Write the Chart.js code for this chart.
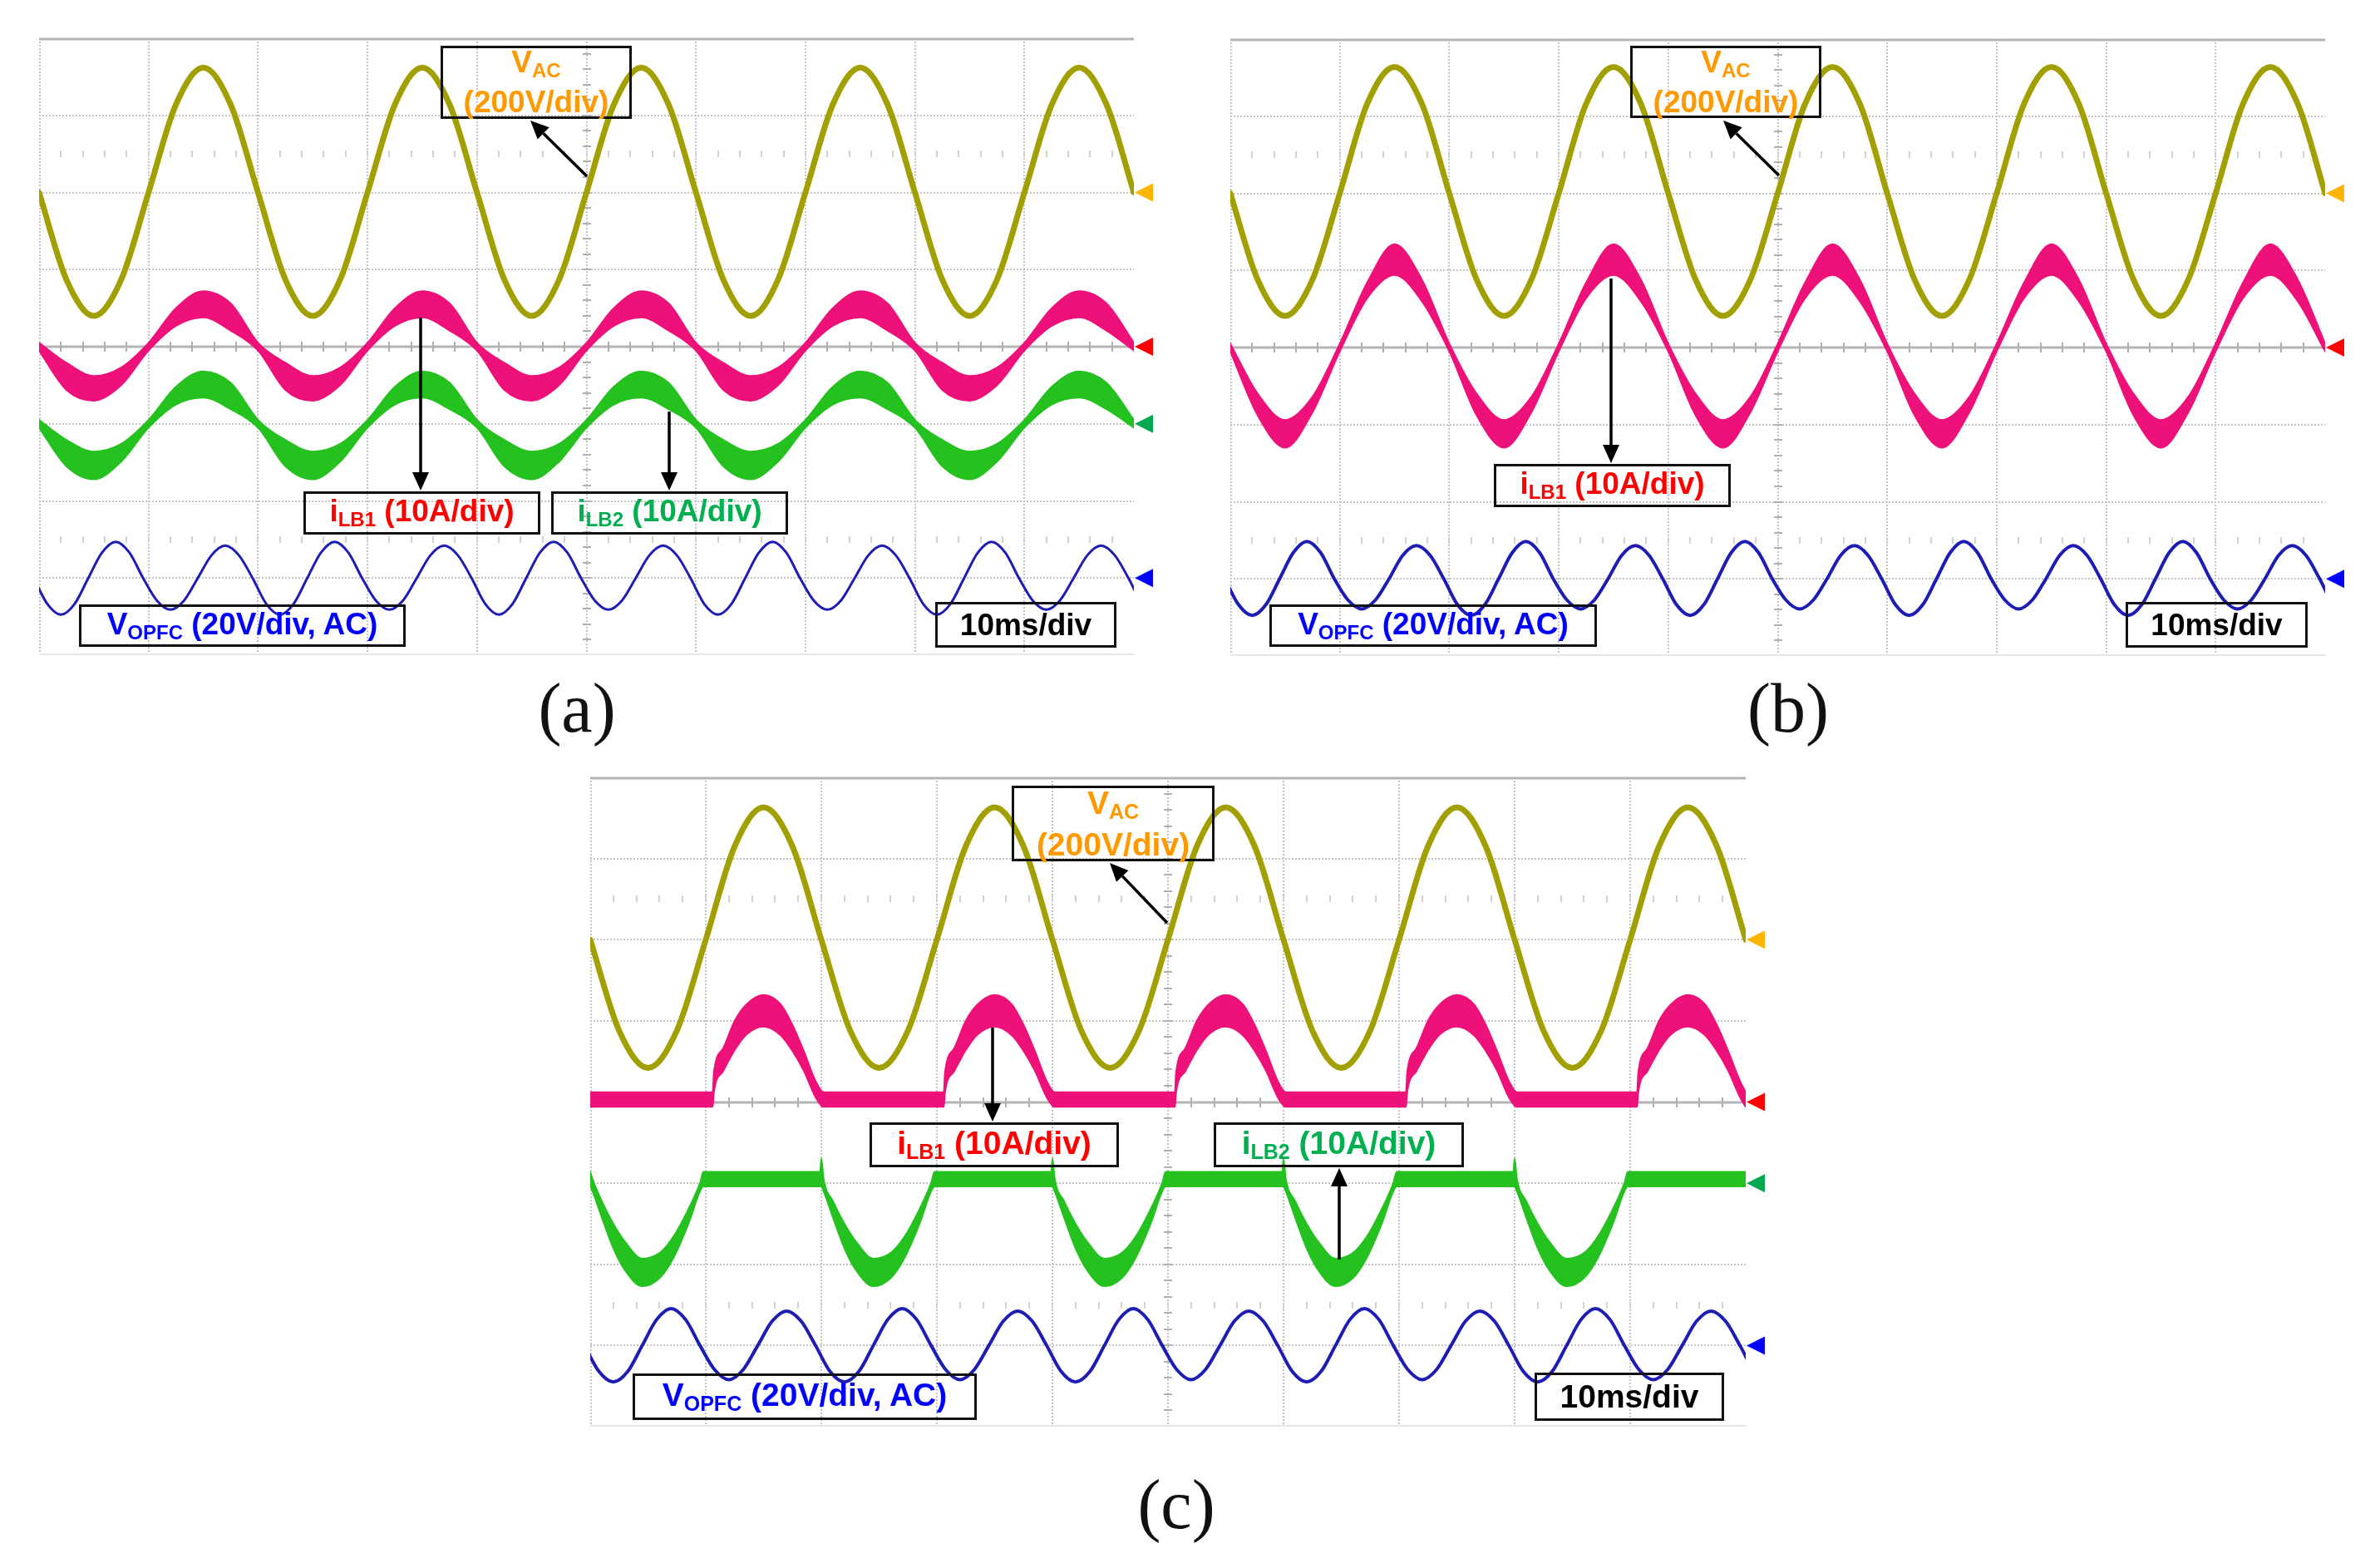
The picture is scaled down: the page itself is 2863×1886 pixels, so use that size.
<!DOCTYPE html>
<html>
<head>
<meta charset="utf-8">
<title>PFC waveforms</title>
<script src="https://cdn.jsdelivr.net/npm/chart.js@4.4.1/dist/chart.umd.min.js"></script>
<style>
  html, body { margin: 0; padding: 0; background: #fff; }
  body { width: 2863px; height: 1886px; position: relative; overflow: hidden; }
  .panel { position: absolute; }
  .box {
    position: absolute; box-sizing: border-box; border: 3px solid #111;
    display: flex; flex-direction: column; justify-content: center; align-items: center;
    font: bold 37px 'Liberation Sans', Arial, sans-serif; line-height: 44px; white-space: nowrap;
  }
  .box .s { font-size: 24px; position: relative; top: 6px; }
  .box.big { font-size: 39px; line-height: 46px; }
  .box.big .s { font-size: 25px; }
  .cap {
    position: absolute; transform: translateX(-50%);
    font: 84px 'Liberation Serif', 'DejaVu Serif', serif; line-height: 84px; color: #111;
  }
  #arrows { position: absolute; left: 0; top: 0; }
</style>
</head>
<body>
<div id="pa" class="panel"></div>
<div id="pb" class="panel"></div>
<div id="pc" class="panel"></div>

<!-- panel (a) labels -->
<div class="box" style="left:530px;top:55px;width:230px;height:88px;color:#ff9900"><div>V<span class="s">AC</span></div><div>(200V/div)</div></div>
<div class="box" style="left:365px;top:591px;width:285px;height:52px;color:#ff0000"><div>i<span class="s">LB1</span> (10A/div)</div></div>
<div class="box" style="left:663px;top:591px;width:285px;height:52px;color:#00b050"><div>i<span class="s">LB2</span> (10A/div)</div></div>
<div class="box" style="left:95px;top:727px;width:393px;height:51px;color:#0000ff"><div>V<span class="s">OPFC</span> (20V/div, AC)</div></div>
<div class="box" style="left:1125px;top:724px;width:218px;height:55px;color:#000"><div>10ms/div</div></div>

<!-- panel (b) labels -->
<div class="box" style="left:1961px;top:55px;width:230px;height:87px;color:#ff9900"><div>V<span class="s">AC</span></div><div>(200V/div)</div></div>
<div class="box" style="left:1797px;top:558px;width:285px;height:52px;color:#ff0000"><div>i<span class="s">LB1</span> (10A/div)</div></div>
<div class="box" style="left:1527px;top:727px;width:394px;height:51px;color:#0000ff"><div>V<span class="s">OPFC</span> (20V/div, AC)</div></div>
<div class="box" style="left:2557px;top:724px;width:219px;height:55px;color:#000"><div>10ms/div</div></div>

<!-- panel (c) labels -->
<div class="box big" style="left:1217px;top:945px;width:244px;height:91px;color:#ff9900"><div>V<span class="s">AC</span></div><div>(200V/div)</div></div>
<div class="box big" style="left:1046px;top:1350px;width:300px;height:54px;color:#ff0000"><div>i<span class="s">LB1</span> (10A/div)</div></div>
<div class="box big" style="left:1460px;top:1350px;width:301px;height:54px;color:#00b050"><div>i<span class="s">LB2</span> (10A/div)</div></div>
<div class="box big" style="left:761px;top:1652px;width:414px;height:56px;color:#0000ff"><div>V<span class="s">OPFC</span> (20V/div, AC)</div></div>
<div class="box big" style="left:1846px;top:1651px;width:228px;height:58px;color:#000"><div>10ms/div</div></div>

<div class="cap" style="left:694px;top:810px">(a)</div>
<div class="cap" style="left:2151px;top:810px">(b)</div>
<div class="cap" style="left:1415px;top:1768px">(c)</div>

<svg id="arrows" width="2863" height="1886"></svg>

<script>
/* global Chart */

// sample times in ms (10 ms/div, 10 divisions on screen)
const tCoarse = Array.from({ length: 41 }, (_, i) => i * 2.5)
// ripple samples, lined up with the 100 Hz troughs (2 ms + 10k) and peaks (7 ms + 10k)
const tRipple = Array.from({ length: 83 }, (_, i) => -0.5 + i * 1.25)

// ---- (a) interleaved operation ----
const vacA = [
  0, -226, -320, -226, 0, 228, 324, 228,
  0, -226, -320, -226, 0, 228, 324, 228,
  0, -226, -320, -226, 0, 228, 324, 228,
  0, -226, -320, -226, 0, 228, 324, 228,
  0, -226, -320, -226, 0, 228, 324, 228,
  0
]
const ilb1AUp = [
  0.5, -2.1, -3.8, -2.7, 0.5, 5.0, 7.2, 5.6,
  0.5, -2.1, -3.8, -2.7, 0.5, 5.0, 7.2, 5.6,
  0.5, -2.1, -3.8, -2.7, 0.5, 5.0, 7.2, 5.6,
  0.5, -2.1, -3.8, -2.7, 0.5, 5.0, 7.2, 5.6,
  0.5, -2.1, -3.8, -2.7, 0.5, 5.0, 7.2, 5.6,
  0.5
]
const ilb1ALo = [
  -0.5, -5.6, -7.0, -5.0, -0.5, 2.7, 3.8, 2.1,
  -0.5, -5.6, -7.0, -5.0, -0.5, 2.7, 3.8, 2.1,
  -0.5, -5.6, -7.0, -5.0, -0.5, 2.7, 3.8, 2.1,
  -0.5, -5.6, -7.0, -5.0, -0.5, 2.7, 3.8, 2.1,
  -0.5, -5.6, -7.0, -5.0, -0.5, 2.7, 3.8, 2.1,
  -0.5
]
const ilb2AUp = [
  0.5, -2.1, -3.6, -2.6, 0.5, 4.8, 6.8, 5.3,
  0.5, -2.1, -3.6, -2.6, 0.5, 4.8, 6.8, 5.3,
  0.5, -2.1, -3.6, -2.6, 0.5, 4.8, 6.8, 5.3,
  0.5, -2.1, -3.6, -2.6, 0.5, 4.8, 6.8, 5.3,
  0.5, -2.1, -3.6, -2.6, 0.5, 4.8, 6.8, 5.3,
  0.5
]
const ilb2ALo = [
  -0.5, -5.5, -7.2, -4.9, -0.5, 2.5, 3.4, 1.9,
  -0.5, -5.5, -7.2, -4.9, -0.5, 2.5, 3.4, 1.9,
  -0.5, -5.5, -7.2, -4.9, -0.5, 2.5, 3.4, 1.9,
  -0.5, -5.5, -7.2, -4.9, -0.5, 2.5, 3.4, 1.9,
  -0.5, -5.5, -7.2, -4.9, -0.5, 2.5, 3.4, 1.9,
  -0.5
]
const vopfcA = [
  0, -6.7, -9.5, -6.7, 0, 6.6, 9.4, 6.6,
  0, -5.8, -8.2, -5.8, 0, 5.9, 8.4, 5.9,
  0, -6.7, -9.5, -6.7, 0, 6.6, 9.4, 6.6,
  0, -5.8, -8.2, -5.8, 0, 5.9, 8.4, 5.9,
  0, -6.7, -9.5, -6.7, 0, 6.6, 9.4, 6.6,
  0, -5.8, -8.2, -5.8, 0, 5.9, 8.4, 5.9,
  0, -6.7, -9.5, -6.7, 0, 6.6, 9.4, 6.6,
  0, -5.8, -8.2, -5.8, 0, 5.9, 8.4, 5.9,
  0, -6.7, -9.5, -6.7, 0, 6.6, 9.4, 6.6,
  0, -5.8, -8.2, -5.8, 0, 5.9, 8.4, 5.9,
  0, -6.7, -9.5
]

// ---- (b) single phase ----
const vacB = [
  0, -224, -318, -224, 0, 232, 328, 232,
  0, -224, -318, -224, 0, 232, 328, 232,
  0, -224, -318, -224, 0, 232, 328, 232,
  0, -224, -318, -224, 0, 232, 328, 232,
  0, -224, -318, -224, 0, 232, 328, 232,
  0
]
const ilb1BUp = [
  0.5, -6.0, -9.4, -6.4, 0.5, 8.4, 13.4, 8.8,
  0.5, -6.0, -9.4, -6.4, 0.5, 8.4, 13.4, 8.8,
  0.5, -6.0, -9.4, -6.4, 0.5, 8.4, 13.4, 8.8,
  0.5, -6.0, -9.4, -6.4, 0.5, 8.4, 13.4, 8.8,
  0.5, -6.0, -9.4, -6.4, 0.5, 8.4, 13.4, 8.8,
  0.5
]
const ilb1BLo = [
  -0.5, -8.8, -13.0, -8.4, -0.5, 6.4, 9.4, 6.0,
  -0.5, -8.8, -13.0, -8.4, -0.5, 6.4, 9.4, 6.0,
  -0.5, -8.8, -13.0, -8.4, -0.5, 6.4, 9.4, 6.0,
  -0.5, -8.8, -13.0, -8.4, -0.5, 6.4, 9.4, 6.0,
  -0.5, -8.8, -13.0, -8.4, -0.5, 6.4, 9.4, 6.0,
  -0.5
]
const vopfcB = [
  0, -6.7, -9.5, -6.7, 0, 6.8, 9.7, 6.8,
  0, -5.5, -7.8, -5.5, 0, 6.1, 8.6, 6.1,
  0, -6.7, -9.5, -6.7, 0, 6.8, 9.7, 6.8,
  0, -5.5, -7.8, -5.5, 0, 6.1, 8.6, 6.1,
  0, -6.7, -9.5, -6.7, 0, 6.8, 9.7, 6.8,
  0, -5.5, -7.8, -5.5, 0, 6.1, 8.6, 6.1,
  0, -6.7, -9.5, -6.7, 0, 6.8, 9.7, 6.8,
  0, -5.5, -7.8, -5.5, 0, 6.1, 8.6, 6.1,
  0, -6.7, -9.5, -6.7, 0, 6.8, 9.7, 6.8,
  0, -5.5, -7.8, -5.5, 0, 6.1, 8.6, 6.1,
  0, -6.7, -9.5
]

// ---- (c) each leg conducts half a line cycle ----
const vacC = [
  0, -224, -316, -224, 0, 230, 326, 230,
  0, -224, -316, -224, 0, 230, 326, 230,
  0, -224, -316, -224, 0, 230, 326, 230,
  0, -224, -316, -224, 0, 230, 326, 230,
  0, -224, -316, -224, 0, 230, 326, 230,
  0
]
const tIlb1C = [
  0,
  10.6, 10.7, 11.5, 12.5, 13.5, 15, 16.5, 17.5, 18.5, 19.5, 20.2,
  30.6, 30.7, 31.5, 32.5, 33.5, 35, 36.5, 37.5, 38.5, 39.5, 40.2,
  50.6, 50.7, 51.5, 52.5, 53.5, 55, 56.5, 57.5, 58.5, 59.5, 60.2,
  70.6, 70.7, 71.5, 72.5, 73.5, 75, 76.5, 77.5, 78.5, 79.5, 80.2,
  90.6, 90.7, 91.5, 92.5, 93.5, 95, 96.5, 97.5, 98.5, 99.5, 100
]
const ilb1CUp = [
  1.2,
  1.2, 3.6, 6.6, 10.0, 12.0, 13.2, 12.0, 9.5, 6.2, 2.6, 1.2,
  1.2, 3.6, 6.6, 10.0, 12.0, 13.2, 12.0, 9.5, 6.2, 2.6, 1.2,
  1.2, 3.6, 6.6, 10.0, 12.0, 13.2, 12.0, 9.5, 6.2, 2.6, 1.2,
  1.2, 3.6, 6.6, 10.0, 12.0, 13.2, 12.0, 9.5, 6.2, 2.6, 1.2,
  1.2, 3.6, 6.6, 10.0, 12.0, 13.2, 12.0, 9.5, 6.2, 2.6, 1.2
]
const ilb1CLo = [
  -0.6,
  -0.6, 1.2, 3.8, 6.4, 8.3, 9.3, 8.2, 6.3, 3.8, 0.6, -0.6,
  -0.6, 1.2, 3.8, 6.4, 8.3, 9.3, 8.2, 6.3, 3.8, 0.6, -0.6,
  -0.6, 1.2, 3.8, 6.4, 8.3, 9.3, 8.2, 6.3, 3.8, 0.6, -0.6,
  -0.6, 1.2, 3.8, 6.4, 8.3, 9.3, 8.2, 6.3, 3.8, 0.6, -0.6,
  -0.6, 1.2, 3.8, 6.4, 8.3, 9.3, 8.2, 6.3, 3.8, 0.6, -0.6
]
const tIlb2C = [
  0, 0.2, 1, 2, 3, 4.5, 6, 7.2, 8.5, 9.5, 9.8,
  19.9, 20, 20.2, 21, 22, 23, 24.5, 26, 27.2, 28.5, 29.5, 29.8,
  39.9, 40, 40.2, 41, 42, 43, 44.5, 46, 47.2, 48.5, 49.5, 49.8,
  59.9, 60, 60.2, 61, 62, 63, 64.5, 66, 67.2, 68.5, 69.5, 69.8,
  79.9, 80, 80.2, 81, 82, 83, 84.5, 86, 87.2, 88.5, 89.5, 89.8,
  100
]
const ilb2CUp = [
  1.4, 0.5, -2.2, -5.0, -7.2, -9.3, -8.6, -6.6, -3.2, 0, 1.4,
  1.4, 3.0, 0.5, -2.2, -5.0, -7.2, -9.3, -8.6, -6.6, -3.2, 0, 1.4,
  1.4, 3.0, 0.5, -2.2, -5.0, -7.2, -9.3, -8.6, -6.6, -3.2, 0, 1.4,
  1.4, 3.0, 0.5, -2.2, -5.0, -7.2, -9.3, -8.6, -6.6, -3.2, 0, 1.4,
  1.4, 3.0, 0.5, -2.2, -5.0, -7.2, -9.3, -8.6, -6.6, -3.2, 0, 1.4,
  1.4
]
const ilb2CLo = [
  -0.4, -1.0, -4.2, -8.0, -10.7, -12.7, -11.7, -9.2, -5.0, -1.0, -0.4,
  -0.4, -0.4, -1.0, -4.2, -8.0, -10.7, -12.7, -11.7, -9.2, -5.0, -1.0, -0.4,
  -0.4, -0.4, -1.0, -4.2, -8.0, -10.7, -12.7, -11.7, -9.2, -5.0, -1.0, -0.4,
  -0.4, -0.4, -1.0, -4.2, -8.0, -10.7, -12.7, -11.7, -9.2, -5.0, -1.0, -0.4,
  -0.4, -0.4, -1.0, -4.2, -8.0, -10.7, -12.7, -11.7, -9.2, -5.0, -1.0, -0.4,
  -0.4
]
const vopfcC = [
  0, -6.4, -9.0, -6.4, 0, 6.4, 9.1, 6.4,
  0, -5.9, -8.4, -5.9, 0, 6.0, 8.5, 6.0,
  0, -6.4, -9.0, -6.4, 0, 6.4, 9.1, 6.4,
  0, -5.9, -8.4, -5.9, 0, 6.0, 8.5, 6.0,
  0, -6.4, -9.0, -6.4, 0, 6.4, 9.1, 6.4,
  0, -5.9, -8.4, -5.9, 0, 6.0, 8.5, 6.0,
  0, -6.4, -9.0, -6.4, 0, 6.4, 9.1, 6.4,
  0, -5.9, -8.4, -5.9, 0, 6.0, 8.5, 6.0,
  0, -6.4, -9.0, -6.4, 0, 6.4, 9.1, 6.4,
  0, -5.9, -8.4, -5.9, 0, 6.0, 8.5, 6.0,
  0, -6.4, -9.0
]

// scope channels: volts (or amps) per division and ground marker position in divisions
const CHANNELS = {
  vac: { perDiv: 200, offset: 2, color: '#a29f00', marker: '#ffb400' },
  ilb1: { perDiv: 10, offset: 0, color: '#ee1179', marker: '#ff0000' },
  ilb2: { perDiv: 10, offset: -1, color: '#24c11f', marker: '#00a84f' },
  vopfc: { perDiv: 20, offset: -3, color: '#1d1db4', marker: '#0000ff' }
}

// graticule: 10 x 8 divisions, dotted, centre line solid with minor ticks
const graticule = {
  id: 'graticule',
  beforeDatasetsDraw (chart) {
    const { ctx, chartArea: a, scales: { x, y } } = chart
    ctx.save()
    ctx.lineWidth = 2
    ctx.strokeStyle = '#c4c4c4'
    ctx.setLineDash([2, 2])
    ctx.beginPath()
    for (let k = 1; k < 10; k++) {
      const px = Math.round(x.getPixelForValue(k * 10))
      ctx.moveTo(px, a.top)
      ctx.lineTo(px, a.bottom)
    }
    for (let k = -3; k <= 3; k++) {
      if (k === 0) continue
      const py = Math.round(y.getPixelForValue(k))
      ctx.moveTo(a.left, py)
      ctx.lineTo(a.right, py)
    }
    ctx.moveTo(a.left + 1, a.top)
    ctx.lineTo(a.left + 1, a.bottom)
    ctx.stroke()
    ctx.setLineDash([])
    ctx.strokeStyle = '#e6e6e6'
    ctx.beginPath()
    ctx.moveTo(a.left, a.bottom - 1)
    ctx.lineTo(a.right, a.bottom - 1)
    ctx.stroke()

    const y0 = Math.round(y.getPixelForValue(0))
    ctx.strokeStyle = '#b4b4b4'
    ctx.lineWidth = 3
    ctx.beginPath()
    ctx.moveTo(a.left, a.top + 1)
    ctx.lineTo(a.right, a.top + 1)
    ctx.moveTo(a.left, y0)
    ctx.lineTo(a.right, y0)
    ctx.stroke()

    // minor ticks every 0.2 div
    const xc = Math.round(x.getPixelForValue(50))
    ctx.lineWidth = 2
    ctx.strokeStyle = '#b0b0b0'
    ctx.beginPath()
    for (let k = 1; k < 50; k++) {
      const px = Math.round(x.getPixelForValue(k * 2))
      ctx.moveTo(px, y0 - 6)
      ctx.lineTo(px, y0 + 6)
    }
    for (let k = -19; k < 20; k++) {
      const py = Math.round(y.getPixelForValue(k * 0.2))
      ctx.moveTo(xc - 5, py)
      ctx.lineTo(xc + 5, py)
    }
    ctx.stroke()
    ctx.strokeStyle = '#d2d2d2'
    ctx.beginPath()
    for (const r of [2.5, -2.5]) {
      const py = Math.round(y.getPixelForValue(r))
      for (let k = 1; k < 50; k++) {
        const px = Math.round(x.getPixelForValue(k * 2))
        ctx.moveTo(px, py - 4)
        ctx.lineTo(px, py + 4)
      }
    }
    ctx.stroke()
    ctx.restore()
  },
  afterDraw (chart, args, options) {
    const { ctx, chartArea: a, scales: { y } } = chart
    ctx.save()
    options.markers.forEach(m => {
      const py = y.getPixelForValue(m.offset)
      ctx.fillStyle = m.marker
      ctx.beginPath()
      ctx.moveTo(a.right + 1, py)
      ctx.lineTo(a.right + 23, py - 11)
      ctx.lineTo(a.right + 23, py + 11)
      ctx.closePath()
      ctx.fill()
    })
    ctx.restore()
  }
}

class ScopePanel {
  constructor (elementId, options) {
    this.options = Object.assign({ pad: 4, padRight: 34 }, options)
    const o = this.options
    const holder = document.getElementById(elementId)
    holder.style.left = (o.left - o.pad) + 'px'
    holder.style.top = (o.top - o.pad) + 'px'
    const canvas = document.createElement('canvas')
    canvas.width = o.width + o.pad + o.padRight
    canvas.height = o.height + 2 * o.pad
    canvas.style.width = canvas.width + 'px'
    canvas.style.height = canvas.height + 'px'
    holder.appendChild(canvas)
    this.chart = new Chart(canvas, {
      type: 'line',
      data: { datasets: this.buildDatasets() },
      options: {
        responsive: false,
        animation: false,
        devicePixelRatio: 1,
        layout: { padding: { left: o.pad, top: o.pad, bottom: o.pad, right: o.padRight } },
        scales: {
          x: { type: 'linear', min: 0, max: 100, display: false },
          y: { type: 'linear', min: -4, max: 4, display: false }
        },
        elements: {
          point: { radius: 0 },
          line: { cubicInterpolationMode: 'monotone', borderCapStyle: 'round', borderJoinStyle: 'round' }
        },
        plugins: {
          legend: { display: false },
          tooltip: { enabled: false },
          graticule: { markers: o.markers.map(k => CHANNELS[k]) }
        }
      },
      plugins: [graticule]
    })
  }

  buildDatasets () {
    const sets = []
    this.options.traces.forEach(tr => {
      const ch = CHANNELS[tr.ch]
      const pts = vals => tr.t.map((t, i) => ({ x: t, y: vals[i] / ch.perDiv + ch.offset }))
      if (tr.v) {
        sets.push({ data: pts(tr.v), borderColor: ch.color, borderWidth: tr.width, fill: false })
      } else {
        sets.push({ data: pts(tr.up), borderColor: ch.color, borderWidth: 2, fill: false })
        sets.push({ data: pts(tr.lo), borderColor: ch.color, borderWidth: 2, backgroundColor: ch.color, fill: '-1' })
      }
    })
    return sets
  }
}

new ScopePanel('pa', {
  left: 47, top: 46, width: 1317, height: 742,
  markers: ['vac', 'ilb1', 'ilb2', 'vopfc'],
  traces: [
    { ch: 'vac', t: tCoarse, v: vacA, width: 7 },
    { ch: 'vopfc', t: tRipple, v: vopfcA, width: 3 },
    { ch: 'ilb1', t: tCoarse, up: ilb1AUp, lo: ilb1ALo },
    { ch: 'ilb2', t: tCoarse, up: ilb2AUp, lo: ilb2ALo }
  ]
})

new ScopePanel('pb', {
  left: 1480, top: 47, width: 1317, height: 742,
  markers: ['vac', 'ilb1', 'vopfc'],
  traces: [
    { ch: 'vac', t: tCoarse, v: vacB, width: 7 },
    { ch: 'vopfc', t: tRipple, v: vopfcB, width: 4 },
    { ch: 'ilb1', t: tCoarse, up: ilb1BUp, lo: ilb1BLo }
  ]
})

new ScopePanel('pc', {
  left: 710, top: 935, width: 1390, height: 781,
  markers: ['vac', 'ilb1', 'ilb2', 'vopfc'],
  traces: [
    { ch: 'vac', t: tCoarse, v: vacC, width: 7 },
    { ch: 'vopfc', t: tRipple, v: vopfcC, width: 4 },
    { ch: 'ilb1', t: tIlb1C, up: ilb1CUp, lo: ilb1CLo },
    { ch: 'ilb2', t: tIlb2C, up: ilb2CUp, lo: ilb2CLo }
  ]
})

// callout arrows (page pixels): tail on the trace, head on the label box
const arrows = [
  [706, 212, 638, 145], [506, 382, 506, 590], [805, 495, 805, 590],
  [2140, 211, 2073, 145], [1938, 335, 1938, 557],
  [1404, 1110, 1335, 1038], [1194, 1236, 1194, 1349], [1611, 1515, 1611, 1405]
]
const svg = document.getElementById('arrows')
const NS = 'http://www.w3.org/2000/svg'
arrows.forEach(([x1, y1, x2, y2]) => {
  const len = Math.hypot(x2 - x1, y2 - y1)
  const ux = (x2 - x1) / len
  const uy = (y2 - y1) / len
  const hl = 22
  const hw = 10
  const bx = x2 - ux * hl
  const by = y2 - uy * hl
  const line = document.createElementNS(NS, 'line')
  line.setAttribute('x1', x1)
  line.setAttribute('y1', y1)
  line.setAttribute('x2', bx)
  line.setAttribute('y2', by)
  line.setAttribute('stroke', '#000')
  line.setAttribute('stroke-width', 3.5)
  svg.appendChild(line)
  const head = document.createElementNS(NS, 'polygon')
  head.setAttribute('points', [
    [x2, y2], [bx - uy * hw, by + ux * hw], [bx + uy * hw, by - ux * hw]
  ].map(p => p.join(',')).join(' '))
  head.setAttribute('fill', '#000')
  svg.appendChild(head)
})
</script>
</body>
</html>
